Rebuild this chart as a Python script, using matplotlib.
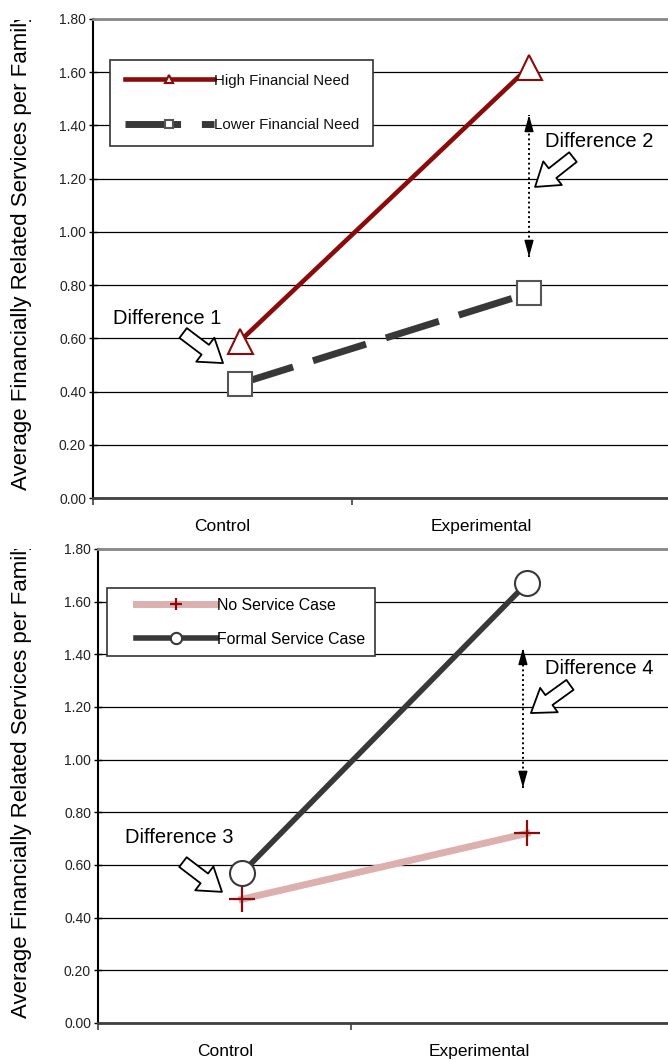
import matplotlib
matplotlib.use("Agg")
import matplotlib.pyplot as plt
from matplotlib.lines import Line2D
from matplotlib.legend_handler import HandlerLine2D
from matplotlib.patches import FancyArrowPatch
from matplotlib.transforms import Bbox

plt.rcParams['font.family'] = ['Liberation Sans', 'DejaVu Sans']

# data
groups = ["Control", "Experimental"]
high_need = [0.59, 1.62]
lower_need = [0.43, 0.77]
no_service = [0.47, 0.72]
formal_service = [0.57, 1.67]
yticks = [0.0, 0.2, 0.4, 0.6, 0.8, 1.0, 1.2, 1.4, 1.6, 1.8]
ylabel = "Average Financially Related Services per Family"

W, H = 668, 1061
fig = plt.figure(figsize=(W / 100, H / 100), dpi=100)


def px_axes(l, t, r, b):
    return fig.add_axes([l / W, 1 - b / H, (r - l) / W, (b - t) / H])


def setup(ax, xlim, labpos, sep):
    ax.set_xlim(*xlim)
    ax.set_ylim(0, 1.8)
    ax.set_yticks(yticks)
    ax.set_yticklabels(["%.2f" % v for v in yticks], fontsize=10, color='#222222')
    ax.tick_params(axis='y', direction='inout', length=6, width=1, pad=2)
    ax.set_xticks([xlim[0], sep])
    ax.set_xticklabels(["", ""])
    ax.tick_params(axis='x', which='major', direction='out', length=5, width=1.2, color='#404040')
    ax.set_xticks(labpos, minor=True)
    ax.set_xticklabels(groups, minor=True, fontsize=12.5)
    ax.tick_params(axis='x', which='minor', length=0, pad=15)
    ax.grid(axis='y', color='black', lw=0.9)
    ax.set_axisbelow(True)
    ax.spines['right'].set_visible(False)
    ax.spines['top'].set_color('#888888')
    ax.spines['top'].set_linewidth(2)
    ax.spines['bottom'].set_color('#404040')
    ax.spines['bottom'].set_linewidth(2)
    ax.spines['left'].set_linewidth(1.5)


def block_arrow(ax, tail, tip):
    ax.add_patch(FancyArrowPatch(tail, tip, arrowstyle="simple,head_length=2.0,head_width=2.7,tail_width=1.1",
                                 mutation_scale=8, fc='white', ec='black', lw=1.3, zorder=6,
                                 shrinkA=0, shrinkB=0))


def dotted_arrow(ax, x, y0, y1):
    ax.plot([x, x], [y0, y1], ls=(0, (1, 1.5)), color='black', lw=1.4, zorder=5)
    for a, b in [(y1 - 0.05, y1), (y0 + 0.05, y0)]:
        ax.annotate("", xy=(x, b), xytext=(x, a),
                    arrowprops=dict(arrowstyle="-|>,head_length=1.0,head_width=0.28",
                                    color='black', lw=1, shrinkA=0, shrinkB=0), zorder=5)


def side_label(y_bottom, y_clip):
    t = fig.text(22 / W, 1 - y_bottom / H, ylabel, rotation=90, fontsize=16,
                 ha='center', va='bottom')
    t.set_clip_box(Bbox([[0, H - y_bottom - 10], [60, H - y_clip]]))
    t.set_clip_on(True)


# top panel
ax1 = px_axes(93, 19, 668, 498)
setup(ax1, (-0.509, 1.481), [-0.062, 0.834], 0.388)
x = [0, 1]
ax1.plot(x, high_need, color='#8B0A0A', lw=3.3, marker='^', ms=18, mfc='white',
         mec='#8B0A0A', mew=1.5, zorder=4, label="High Financial Need")
ax1.plot(x, lower_need, color='#383838', lw=5, dashes=(8, 3), marker='s', ms=17,
         mfc='white', mec='#555555', mew=1.5, zorder=3, label="Lower Financial Need")
leg1 = ax1.legend(loc='upper left', bbox_to_anchor=(110 / W, 1 - 60 / H),
                  bbox_transform=fig.transFigure, fontsize=10.8, handlelength=6.0,
                  handletextpad=0.05, labelspacing=2.05, borderpad=0.9, markerscale=0.35,
                  numpoints=1, fancybox=False, framealpha=1, edgecolor='#333333',
                  borderaxespad=0, handler_map={Line2D: HandlerLine2D(xpad=0.1)})
leg1.get_frame().set_linewidth(1.2)
for t in leg1.get_texts():
    t.set_color('#111111')

ax1.text(-0.439, 0.676, "Difference 1", fontsize=14.5, va='center', ha='left', zorder=7)
block_arrow(ax1, (-0.197, 0.620), (-0.059, 0.507))
ax1.text(1.055, 1.338, "Difference 2", fontsize=14.5, va='center', ha='left', zorder=7)
block_arrow(ax1, (1.152, 1.281), (1.021, 1.169))
dotted_arrow(ax1, 1.0, 0.906, 1.439)
side_label(490, 20)

# bottom panel
ax2 = px_axes(98, 549, 668, 1023)
setup(ax2, (-0.505, 1.495), [-0.06, 0.832], 0.382)
ax2.plot(x, no_service, color='#DDB0B0', lw=5, marker='+', ms=19, mec='#8B0A0A',
         mew=1.6, zorder=3, label="No Service Case")
ax2.plot(x, formal_service, color='#383838', lw=4, marker='o', ms=18, mfc='white',
         mec='#383838', mew=1.5, zorder=4, label="Formal Service Case")
leg2 = ax2.legend(loc='upper left', bbox_to_anchor=(107 / W, 1 - 588 / H),
                  bbox_transform=fig.transFigure, fontsize=11.4, handlelength=6.3,
                  handletextpad=0.05, labelspacing=1.2, borderpad=0.6, markerscale=0.45,
                  numpoints=1, fancybox=False, framealpha=1, edgecolor='#333333',
                  borderaxespad=0, handler_map={Line2D: HandlerLine2D(xpad=1.25)})
leg2.get_frame().set_linewidth(1.2)

ax2.text(-0.41, 0.706, "Difference 3", fontsize=14.5, va='center', ha='left', zorder=7)
block_arrow(ax2, (-0.207, 0.611), (-0.070, 0.498))
ax2.text(1.063, 1.348, "Difference 4", fontsize=14.5, va='center', ha='left', zorder=7)
block_arrow(ax2, (1.151, 1.284), (1.014, 1.177))
dotted_arrow(ax2, 0.986, 0.893, 1.424)
side_label(1018, 549)

fig.savefig("out.png", dpi=100)
